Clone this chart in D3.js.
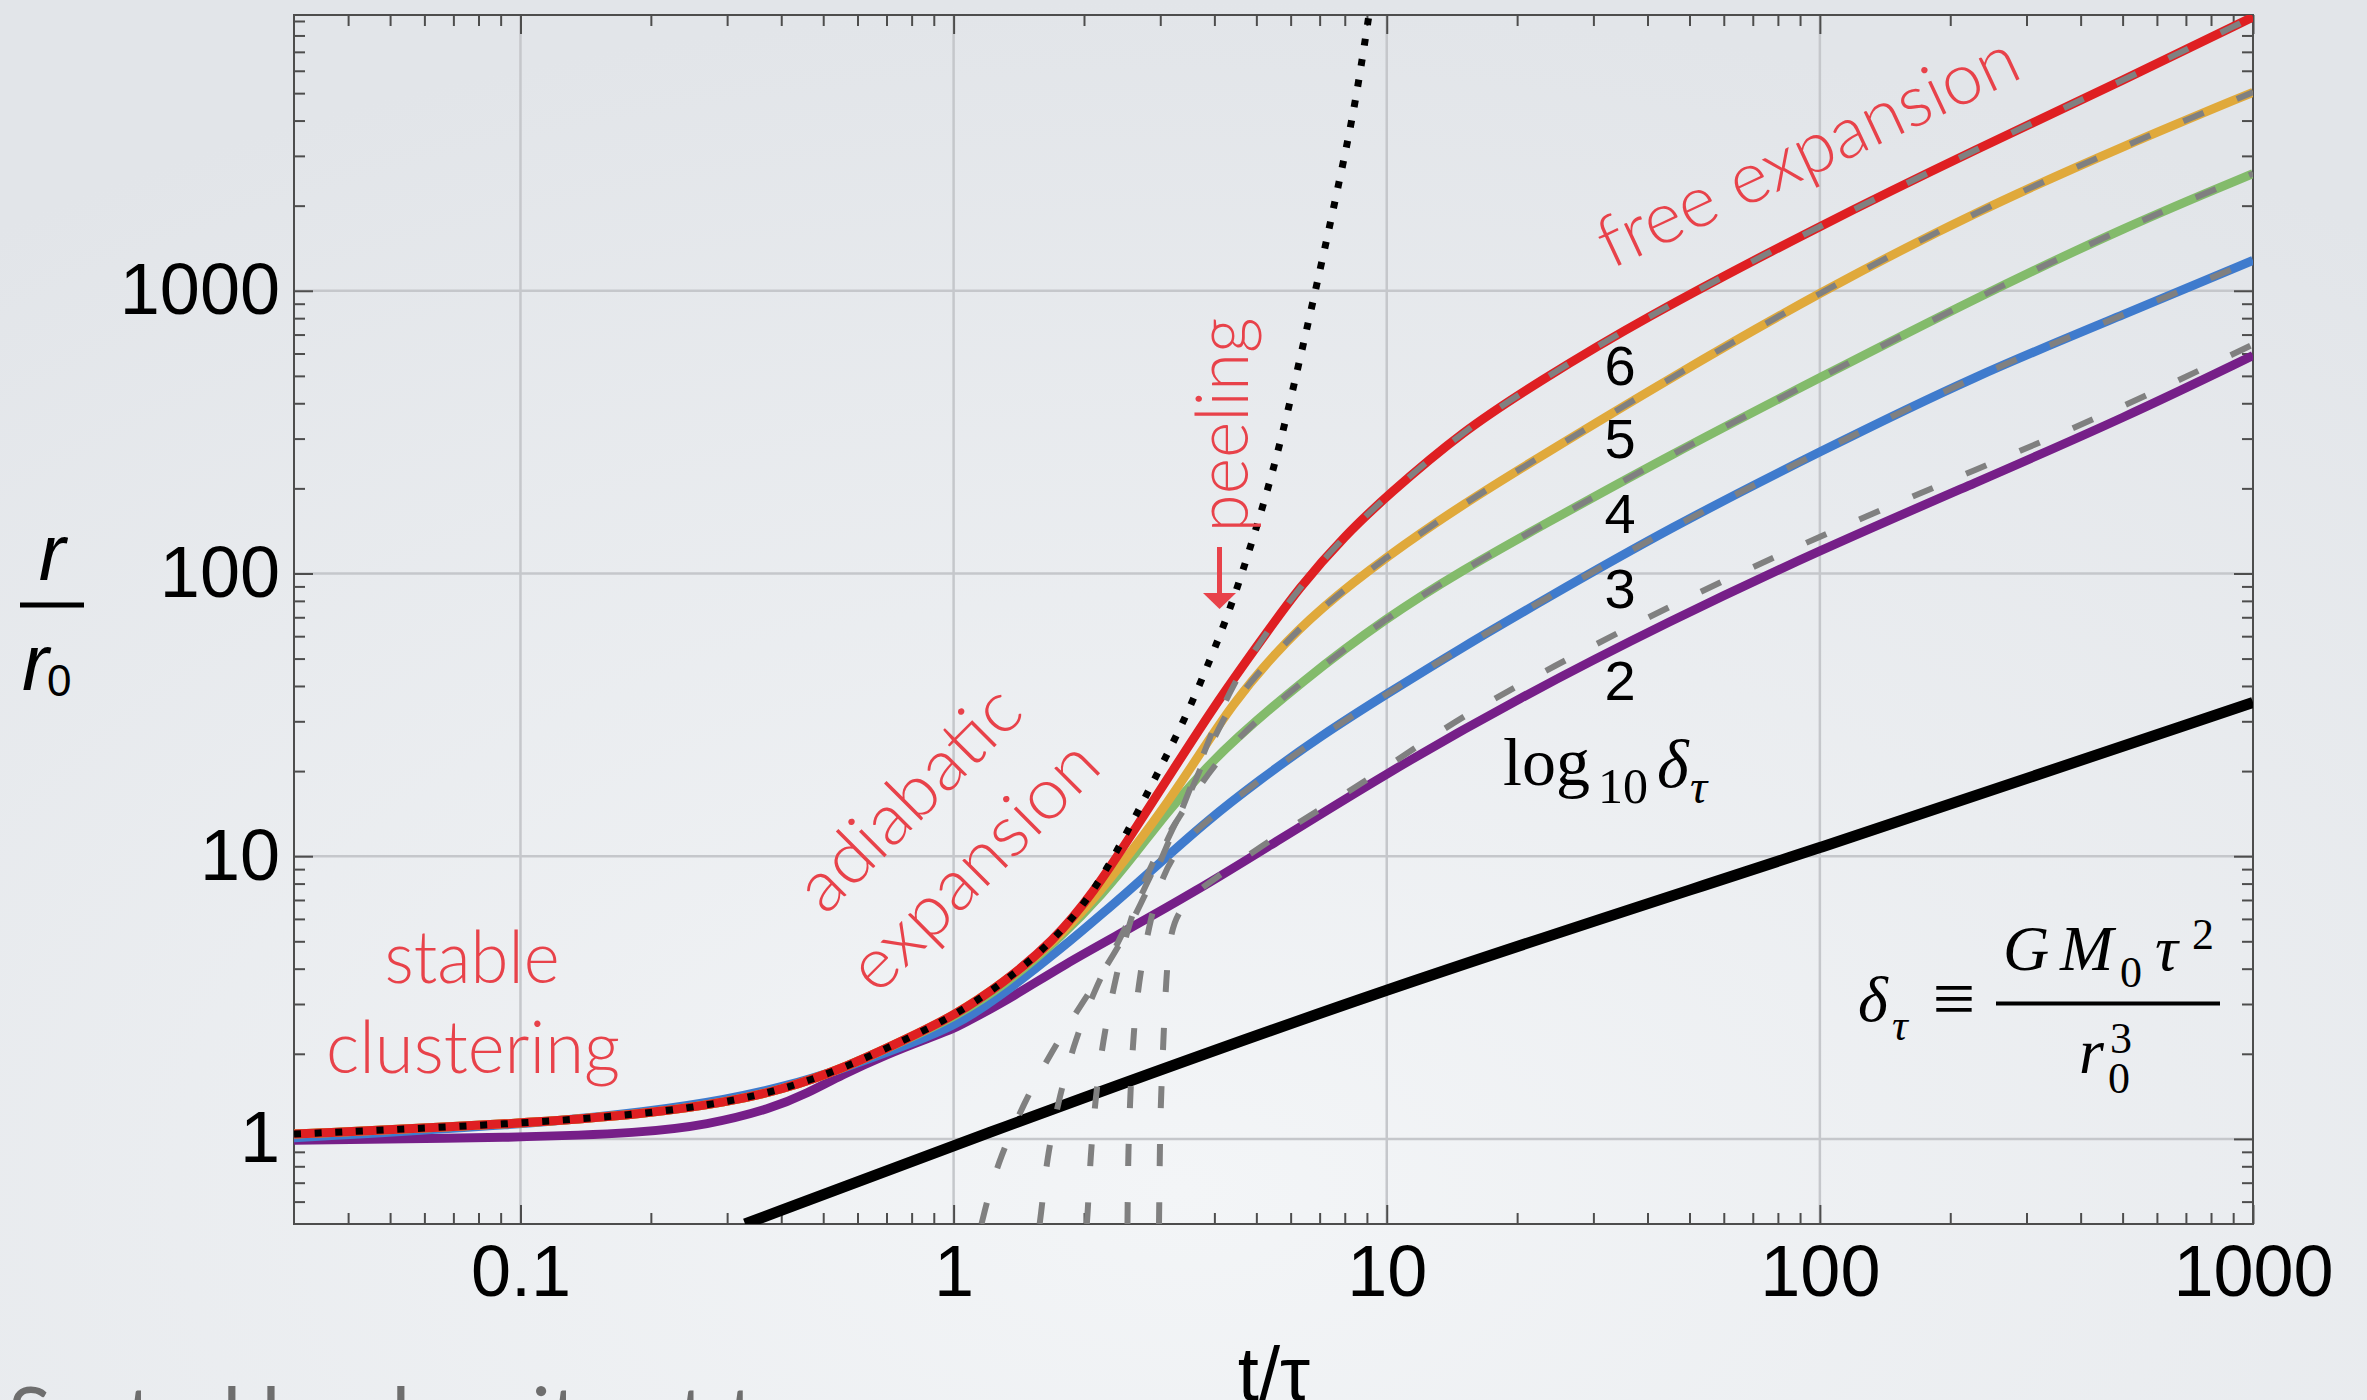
<!DOCTYPE html>
<html>
<head>
<meta charset="utf-8">
<script src="https://cdn.jsdelivr.net/npm/d3@7"></script>
<style>
  body { margin: 0; overflow: hidden; }
  .tick text { font-family: "Liberation Sans", Arial, Helvetica, sans-serif; font-size: 72px; fill: #000; }
  .tick line { stroke: #4d4d4d; stroke-width: 2; }
  .domain { display: none; }
  .note { font-family: "Lato", "Open Sans", sans-serif; font-weight: 300; font-size: 72px; fill: #e8424a; }
  .serif { font-family: "Liberation Serif", "DejaVu Serif", serif; fill: #000; }
</style>
</head>
<body>
<div id="chart"></div>
<script>
// r/r0 against t/tau, one curve per log10(delta_tau)
const xMajor = [0.1, 1, 10, 100, 1000];
const yMajor = [1, 10, 100, 1000];
const deltaLabels = ["6", "5", "4", "3", "2"];

// solid curves, [t/tau, r/r0]
const red = [[0.03,1.04],[0.1,1.13],[0.2,1.23],[0.3,1.35],[0.4,1.49],[0.55,1.76],[0.78,2.26],[1.0,2.72],[1.3,3.55],[1.7,5.0],[2.1,7.4],[2.6,12.2],[3.2,20],[4.0,34],[5.0,55],[6.3,90],[8.0,136],[10,188],[15,320],[22.5,478],[38,780],[100,1700],[228,3150],[514,5650],[1000,9300]];
const orange = [[0.03,1.04],[0.1,1.13],[0.2,1.23],[0.3,1.35],[0.4,1.49],[0.55,1.76],[0.78,2.26],[1.0,2.72],[1.3,3.55],[1.7,4.95],[2.1,7.0],[2.5,9.8],[3.0,14.2],[3.6,21.5],[4.4,34.5],[5.5,52],[7,75],[10,115],[15,176],[22.5,258],[45,490],[100,990],[228,1900],[514,3300],[1000,5035]];
const green = [[0.03,1.04],[0.1,1.13],[0.2,1.23],[0.3,1.35],[0.4,1.49],[0.55,1.76],[0.78,2.25],[1.0,2.69],[1.3,3.45],[1.8,5.3],[2.2,7.3],[2.64,10.3],[3.1,14.2],[3.8,20.3],[4.42,25.6],[6.3,41],[10,70],[15,103],[22.5,146],[45,262],[100,493],[228,940],[514,1700],[1000,2595]];
const blue = [[0.03,1.01],[0.1,1.12],[0.2,1.25],[0.3,1.38],[0.4,1.52],[0.55,1.76],[0.78,2.15],[1.0,2.5],[1.25,3.1],[1.8,4.8],[2.24,6.4],[2.5,7.4],[3.0,9.5],[3.86,13.4],[5.06,18.5],[7.0,26.5],[10,37.5],[15,55],[22.5,79],[45,145],[100,270],[228,501],[514,834],[1000,1280]];
const purple = [[0.03,0.99],[0.1,1.01],[0.19,1.05],[0.27,1.12],[0.38,1.28],[0.46,1.45],[0.55,1.68],[0.7,1.99],[0.88,2.28],[1.0,2.45],[1.1,2.65],[1.37,3.18],[1.79,4.12],[2.55,5.55],[3.64,7.56],[5.09,10.35],[10,19.7],[20,36],[45,68],[100,121],[228,209],[514,360],[1000,590]];

// dashed approximations: early branch, late part follows the solid curve
const redDashEarly = [[1.16,0.5],[1.2,0.62],[1.28,0.86],[1.45,1.33],[1.68,2.03],[2.0,3.1],[2.4,4.7],[2.8,7.5],[3.2,12],[3.6,19],[4.0,29],[4.4,40]];
const orangeDashEarly = [[1.58,0.5],[1.6,0.58],[1.64,0.84],[1.74,1.34],[1.886,2.12],[2.1,3.3],[2.45,5.3],[2.85,8.5],[3.2,12.5],[3.51,16.5],[3.86,23.6],[4.2,30.5]];
const greenDashEarly = [[2.03,0.5],[2.04,0.55],[2.07,0.86],[2.12,1.34],[2.21,2.23],[2.35,3.52],[2.5,5.3],[2.7,7.6],[2.95,10.3],[3.3,13.6],[3.7,17.8]];
const blueDashEarly = [[2.52,0.5],[2.53,0.92],[2.56,1.45],[2.6,2.39],[2.69,3.84],[2.86,6.18],[3.04,8.6],[3.3,10.6],[3.6,12.2]];
const purpleDash = [[2.98,0.5],[2.99,0.76],[3.0,1.21],[3.04,1.98],[3.08,3.16],[3.14,5.11],[3.3,6.4],[3.64,7.5],[4.0,8.3],[5.09,10.8],[7,14.6],[10,20.6],[15,31.5],[23.7,46],[45,77],[100,136],[228,232],[514,394],[1000,646]];

// adiabatic expansion (dotted), leaves the red curve after t ~ 2
const adiabaticUpper = [[2.5,11.9],[2.93,19.1],[3.42,30.5],[3.9,49],[4.31,72],[4.75,112],[5.5,234],[6.25,540],[7.03,1199],[7.79,2478],[8.47,4590],[9.15,10000]];
// black reference line
const blackLine = [[0.33,0.5],[1,0.95],[10,3.45],[100,10.6],[1000,35]];

draw();

function minorTicks(lo, hi) {
    const out = [];
    for (let e = -2; e <= 4; e++) {
        for (let k = 2; k <= 9; k++) {
            const v = k * Math.pow(10, e);
            if (v > lo * 1.0001 && v < hi * 0.9999) out.push(v);
        }
    }
    return out;
}

function draw() {
    const width = 2367;
    const height = 1400;
    const plot = { left: 294, right: 2253, top: 15, bottom: 1224 };

    const svg = d3.select("#chart").append("svg")
        .attr("width", width)
        .attr("height", height);

    const defs = svg.append("defs");
    const bg = defs.append("radialGradient").attr("id", "bg")
        .attr("cx", "50%").attr("cy", "85%").attr("r", "85%");
    bg.append("stop").attr("offset", "0%").attr("stop-color", "#f3f5f7");
    bg.append("stop").attr("offset", "100%").attr("stop-color", "#e2e5e9");
    defs.append("clipPath").attr("id", "clip")
        .append("rect")
        .attr("x", plot.left).attr("y", plot.top)
        .attr("width", plot.right - plot.left)
        .attr("height", plot.bottom - plot.top);

    svg.append("rect").attr("width", width).attr("height", height).attr("fill", "url(#bg)");

    const x = d3.scaleLog().domain([0.03, 1000]).range([plot.left, plot.right]);
    const y = d3.scaleLog().domain([0.5, 9450]).range([plot.bottom, plot.top]);

    // grid
    const grid = svg.append("g").attr("stroke", "#c5c7cb").attr("stroke-width", 2.5);
    grid.selectAll(".gx").data(xMajor.filter(v => v < 1000)).join("line")
        .attr("x1", d => x(d)).attr("x2", d => x(d))
        .attr("y1", plot.top).attr("y2", plot.bottom);
    grid.selectAll(".gy").data(yMajor).join("line")
        .attr("x1", plot.left).attr("x2", plot.right)
        .attr("y1", d => y(d)).attr("y2", d => y(d));

    // frame ticks
    const fmt = d3.format("~g");
    const xMinor = minorTicks(0.03, 1000);
    const yMinor = minorTicks(0.5, 9450);
    svg.append("g").attr("transform", `translate(0,${plot.bottom})`)
        .call(d3.axisBottom(x).tickValues(xMajor).tickFormat(fmt).tickSize(-19).tickSizeOuter(0).tickPadding(21));
    svg.append("g").attr("transform", `translate(0,${plot.bottom})`)
        .call(d3.axisBottom(x).tickValues(xMinor).tickFormat("").tickSize(-11).tickSizeOuter(0));
    svg.append("g").attr("transform", `translate(0,${plot.top})`)
        .call(d3.axisTop(x).tickValues(xMajor).tickFormat("").tickSize(-19).tickSizeOuter(0));
    svg.append("g").attr("transform", `translate(0,${plot.top})`)
        .call(d3.axisTop(x).tickValues(xMinor).tickFormat("").tickSize(-11).tickSizeOuter(0));
    svg.append("g").attr("transform", `translate(${plot.left},0)`)
        .call(d3.axisLeft(y).tickValues(yMajor).tickFormat(fmt).tickSize(-19).tickSizeOuter(0).tickPadding(14));
    svg.append("g").attr("transform", `translate(${plot.left},0)`)
        .call(d3.axisLeft(y).tickValues(yMinor).tickFormat("").tickSize(-11).tickSizeOuter(0));
    svg.append("g").attr("transform", `translate(${plot.right},0)`)
        .call(d3.axisRight(y).tickValues(yMajor).tickFormat("").tickSize(-19).tickSizeOuter(0));
    svg.append("g").attr("transform", `translate(${plot.right},0)`)
        .call(d3.axisRight(y).tickValues(yMinor).tickFormat("").tickSize(-11).tickSizeOuter(0));

    svg.append("rect")
        .attr("x", plot.left).attr("y", plot.top)
        .attr("width", plot.right - plot.left).attr("height", plot.bottom - plot.top)
        .attr("fill", "none").attr("stroke", "#4d4d4d").attr("stroke-width", 2);

    // curves
    const line = d3.line()
        .x(d => x(d[0]))
        .y(d => y(d[1]))
        .curve(d3.curveBasis);
    const curves = svg.append("g").attr("clip-path", "url(#clip)").attr("fill", "none");

    curves.append("path").attr("d", line(blackLine))
        .attr("stroke", "#000").attr("stroke-width", 11);

    const solids = [
        { data: purple, color: "#761f88" },
        { data: blue, color: "#3f7bcd" },
        { data: green, color: "#83bb6b" },
        { data: orange, color: "#e0a93b" },
        { data: red, color: "#df1f22" }
    ];
    curves.selectAll(".solid").data(solids).join("path")
        .attr("d", d => line(d.data))
        .attr("stroke", d => d.color)
        .attr("stroke-width", 9);

    const dashed = [
        purpleDash,
        blueDashEarly.concat(blue.filter(d => d[0] >= 3.8)),
        greenDashEarly.concat(green.filter(d => d[0] >= 4.4)),
        orangeDashEarly.concat(orange.filter(d => d[0] >= 4.3)),
        redDashEarly.concat(red.filter(d => d[0] >= 5))
    ];
    curves.selectAll(".dash").data(dashed).join("path")
        .attr("d", d => line(d))
        .attr("stroke", "#808080")
        .attr("stroke-width", 6)
        .attr("stroke-dasharray", "22,36");

    curves.append("path")
        .attr("d", line(red.filter(d => d[0] <= 2.1).concat(adiabaticUpper)))
        .attr("stroke", "#000").attr("stroke-width", 7)
        .attr("stroke-dasharray", "7,13.7");

    // red annotations
    const notes = svg.append("g").attr("class", "note");
    notes.append("text").attr("x", 472).attr("y", 983)
        .attr("text-anchor", "middle").attr("textLength", 175).attr("lengthAdjust", "spacingAndGlyphs")
        .text("stable");
    notes.append("text").attr("x", 473).attr("y", 1073)
        .attr("text-anchor", "middle").attr("textLength", 294).attr("lengthAdjust", "spacingAndGlyphs")
        .text("clustering");
    notes.append("text").attr("transform", "translate(913,803) rotate(-45)").attr("dy", "0.25em")
        .attr("text-anchor", "middle").attr("textLength", 284).attr("lengthAdjust", "spacingAndGlyphs")
        .text("adiabatic");
    notes.append("text").attr("transform", "translate(978,870) rotate(-45)").attr("dy", "0.25em")
        .attr("text-anchor", "middle").attr("textLength", 321).attr("lengthAdjust", "spacingAndGlyphs")
        .text("expansion");
    notes.append("text").attr("transform", "translate(1818,173) rotate(-25)")
        .attr("text-anchor", "middle").attr("textLength", 456).attr("lengthAdjust", "spacingAndGlyphs")
        .text("free expansion");
    notes.append("text").attr("transform", "translate(1248,425) rotate(-90)")
        .attr("text-anchor", "middle").attr("textLength", 215).attr("lengthAdjust", "spacingAndGlyphs")
        .text("peeling");

    // peeling arrow
    svg.append("line")
        .attr("x1", 1219.5).attr("x2", 1219.5).attr("y1", 547).attr("y2", 596)
        .attr("stroke", "#e8424a").attr("stroke-width", 5);
    svg.append("path")
        .attr("d", "M1203,593 L1236,593 L1219.5,609 Z")
        .attr("fill", "#e8424a");

    // log10 delta labels
    svg.append("g").selectAll("text").data(deltaLabels).join("text")
        .attr("x", 1620)
        .attr("y", (d, i) => [385, 458, 533, 608, 700][i])
        .attr("text-anchor", "middle")
        .style("font-family", "'Liberation Sans', Arial, sans-serif")
        .style("font-size", "56px")
        .text(d => d);

    const lg = svg.append("g").attr("class", "serif");
    lg.append("text").attr("x", 1503).attr("y", 785).style("font-size", "68px").text("log");
    lg.append("text").attr("x", 1598).attr("y", 803).style("font-size", "50px").text("10");
    lg.append("text").attr("x", 1657).attr("y", 787).style("font-size", "68px").style("font-style", "italic").text("δ");
    lg.append("text").attr("x", 1690).attr("y", 803).style("font-size", "48px").style("font-style", "italic").text("τ");

    // definition of delta_tau
    const fm = svg.append("g").attr("class", "serif");
    fm.append("text").attr("x", 1858).attr("y", 1021).style("font-size", "64px").style("font-style", "italic").text("δ");
    fm.append("text").attr("x", 1892).attr("y", 1040).style("font-size", "44px").style("font-style", "italic").text("τ");
    fm.append("text").attr("x", 1954).attr("y", 1024).attr("text-anchor", "middle").style("font-size", "76px").text("≡");
    fm.append("line").attr("x1", 1996).attr("x2", 2220).attr("y1", 1003.5).attr("y2", 1003.5)
        .attr("stroke", "#000").attr("stroke-width", 4);
    fm.append("text").attr("x", 2003).attr("y", 970).style("font-size", "64px").style("font-style", "italic").text("G");
    fm.append("text").attr("x", 2060).attr("y", 970).style("font-size", "64px").style("font-style", "italic").text("M");
    fm.append("text").attr("x", 2120).attr("y", 987).style("font-size", "44px").text("0");
    fm.append("text").attr("x", 2155).attr("y", 970).style("font-size", "64px").style("font-style", "italic").text("τ");
    fm.append("text").attr("x", 2192).attr("y", 949).style("font-size", "44px").text("2");
    fm.append("text").attr("x", 2079).attr("y", 1073).style("font-size", "64px").style("font-style", "italic").text("r");
    fm.append("text").attr("x", 2110).attr("y", 1053).style("font-size", "44px").text("3");
    fm.append("text").attr("x", 2108).attr("y", 1093).style("font-size", "44px").text("0");

    // axis titles
    const sans = "'Liberation Sans', Arial, Helvetica, sans-serif";
    svg.append("text").attr("x", 52).attr("y", 580).attr("text-anchor", "middle")
        .style("font-family", sans).style("font-size", "80px").style("font-style", "italic").text("r");
    svg.append("line").attr("x1", 20).attr("x2", 84).attr("y1", 605).attr("y2", 605)
        .attr("stroke", "#000").attr("stroke-width", 5);
    svg.append("text").attr("x", 22).attr("y", 690)
        .style("font-family", sans).style("font-size", "80px").style("font-style", "italic").text("r");
    svg.append("text").attr("x", 47).attr("y", 696)
        .style("font-family", sans).style("font-size", "44px").text("0");
    svg.append("text").attr("x", 1274).attr("y", 1400).attr("text-anchor", "middle")
        .style("font-family", sans).style("font-size", "76px").text("t/τ");

    // slide caption, cut by the bottom edge
    svg.append("text").attr("x", 8).attr("y", 1444)
        .style("font-family", "'Lato', sans-serif").style("font-size", "80px").style("fill", "#6e6e6e")
        .text("Sorted by density at t");
}
</script>
</body>
</html>
